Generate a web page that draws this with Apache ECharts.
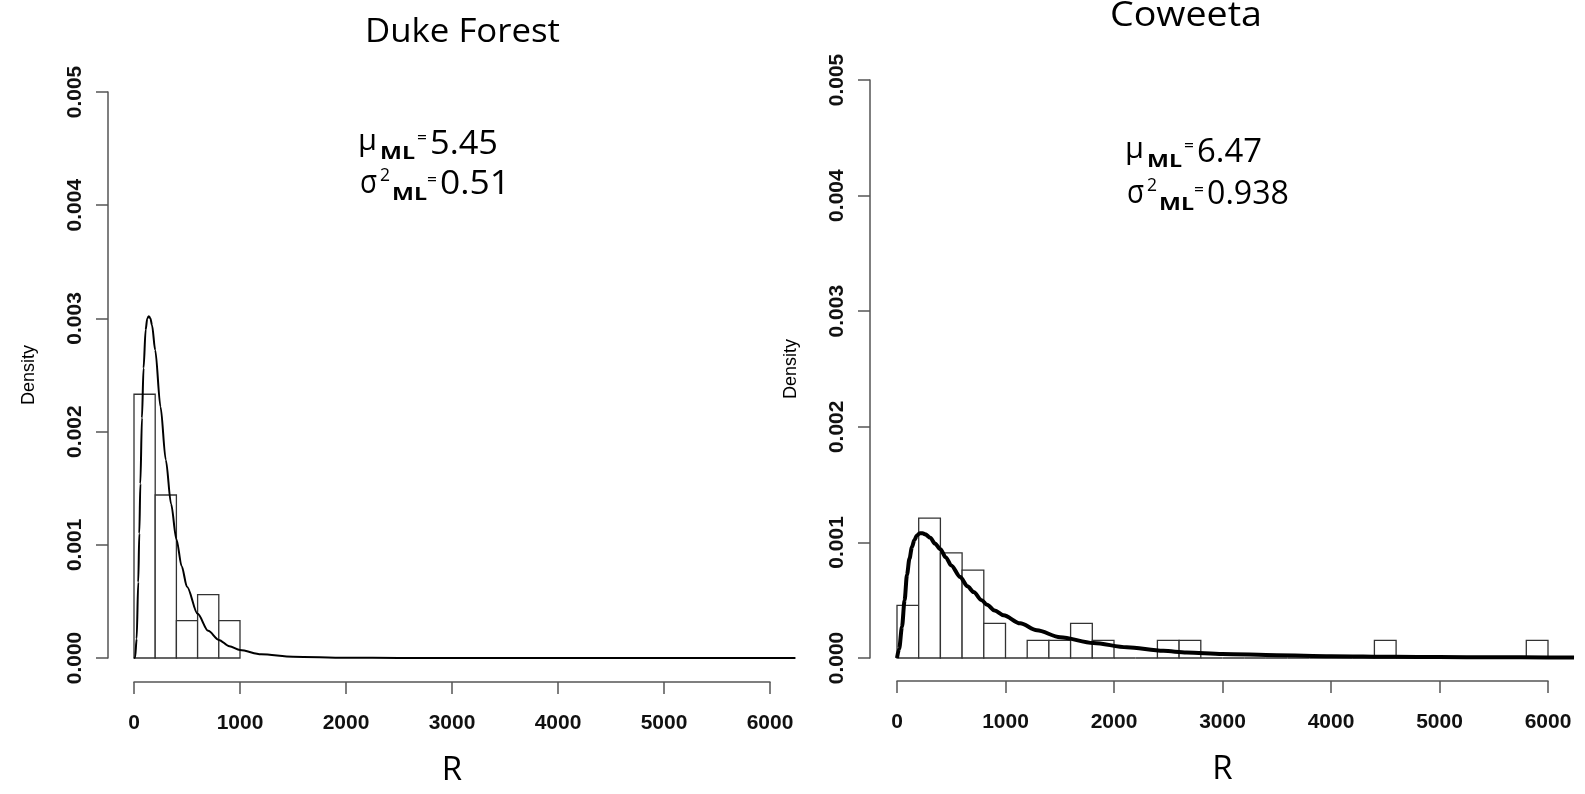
<!DOCTYPE html>
<html><head><meta charset="utf-8">
<script src="https://cdn.jsdelivr.net/npm/echarts@6/dist/echarts.min.js"></script>
<style>html,body{margin:0;padding:0;background:#fff}#c{width:1585px;height:794px}</style>
</head><body><div id="c"></div>
<script>
// ---------- data ----------
const xTickValues = [0, 1000, 2000, 3000, 4000, 5000, 6000];
const yTickValues = [0.000, 0.001, 0.002, 0.003, 0.004, 0.005];
const panelTitles = ['Duke Forest', 'Coweeta'];
const axisNameX = 'R';
const axisNameY = 'Density';

// Duke Forest histogram (bin lower edge, upper edge, density)
const dukeBinLo = [0, 200, 400, 600, 800];
const dukeBinHi = [200, 400, 600, 800, 1000];
const dukeDensity = [0.00233, 0.00144, 0.00033, 0.00056, 0.00033];

// Coweeta histogram
const cowBinLo = [0,200,400,600,800,1000,1200,1400,1600,1800,2000,2200,2400,2600,2800,3000,3200,3400,3600,3800,4000,4200,4400,4600,4800,5000,5200,5400,5600,5800];
const cowBinHi = [200,400,600,800,1000,1200,1400,1600,1800,2000,2200,2400,2600,2800,3000,3200,3400,3600,3800,4000,4200,4400,4600,4800,5000,5200,5400,5600,5800,6000];
const cowDensity = [0.000455,0.00121,0.00091,0.00076,0.0003,0,0.000152,0.000152,0.0003,0.000152,0,0,0.000152,0.000152,0,0,0,0,0,0,0,0,0.000152,0,0,0,0,0,0,0.000152];

// fitted density curves
const dukeCurveR = [0,10,25,40,50,60,75,90,110,125,140,155,170,200,250,300,350,400,450,500,600,700,800,900,1000,1200,1500,2000,2500,3000,4000,5000,6000,6240];
const dukeCurveD = [0,0.000003,0.00017,0.00067,0.0011,0.00154,0.00212,0.00256,0.0029,0.003,0.00302,0.003,0.00294,0.00272,0.00222,0.00175,0.00136,0.00105,0.00081,0.00063,0.00039,0.00024,0.00016,0.000103,0.00007,0.000033,0.000012,0.000003,0.000001,0,0,0,0,0];
const cowCurveR = [0,6,20,46,70,92,115,138,160,184,210,235,260,307,350,400,450,500,583,650,706,780,830,900,982,1135,1289,1504,1810,2118,2455,2670,3000,3500,4000,4590,5000,5500,6000,6240];
const cowCurveD = [0,0,0.00008,0.00027,0.0005,0.00072,0.00086,0.00096,0.00102,0.00106,0.00108,0.00108,0.00107,0.00104,0.00099,0.00094,0.00087,0.0008,0.0007,0.00062,0.00057,0.0005,0.00046,0.00041,0.00037,0.0003,0.00024,0.00018,0.00013,0.000093,0.000062,0.000048,0.000035,0.000024,0.000016,0.00001,0.000008,0.000006,0.000005,0.000004];

const dukeStats = { mu: '5.45', s2: '0.51' };
const cowStats = { mu: '6.47', s2: '0.938' };

// ---------- chart ----------
const chart = echarts.init(document.getElementById('c'), null, { renderer: 'canvas' });
const axisColor = '#555';
const tickFont = { color: '#111', fontFamily: 'Liberation Sans, Arial', fontWeight: 'bold', fontSize: 21 };
const xMin = xTickValues[0], xMax = xTickValues[xTickValues.length - 1];
const dataXMax = Math.max(dukeCurveR[dukeCurveR.length - 1], cowCurveR[cowCurveR.length - 1]);

// layout: visible axis grids and (slightly wider) data grids sharing the same scale
const panels = [
  { left: 134, width: 636, top: 92, height: 566, xOff: 24, yOff: 26 },
  { left: 897, width: 651, top: 80, height: 578, xOff: 23, yOff: 27 }
];

function visXAxis(gi, off) {
  return {
    type: 'value', gridIndex: gi, min: xMin, max: xMax,
    interval: xTickValues[1] - xTickValues[0], offset: off,
    axisLine: { show: true, onZero: false, lineStyle: { color: axisColor, width: 1.5 } },
    axisTick: { show: true, length: 12, lineStyle: { color: axisColor, width: 1.5 } },
    axisLabel: Object.assign({ margin: 31, formatter: v => String(v) }, tickFont),
    splitLine: { show: false },
    name: axisNameX, nameLocation: 'middle', nameGap: 72,
    nameTextStyle: { fontFamily: 'Open Sans', fontSize: 33, color: '#000' }
  };
}
function visYAxis(gi, off) {
  return {
    type: 'value', gridIndex: gi, min: yTickValues[0], max: yTickValues[yTickValues.length - 1],
    interval: yTickValues[1] - yTickValues[0], offset: off,
    axisLine: { show: true, onZero: false, lineStyle: { color: axisColor, width: 1.5 } },
    axisTick: { show: true, length: 12, lineStyle: { color: axisColor, width: 1.5 } },
    axisLabel: Object.assign({ margin: 22, rotate: 90, formatter: v => v.toFixed(3) }, tickFont),
    splitLine: { show: false },
    name: axisNameY, nameLocation: 'middle', nameGap: 70,
    nameTextStyle: { fontFamily: 'Liberation Sans, Arial', fontSize: 18, color: '#000' }
  };
}
function dataXAxis(gi) {
  return { type: 'value', gridIndex: gi, min: xMin, max: dataXMax, show: false, splitLine: { show: false } };
}
function dataYAxis(gi) {
  return { type: 'value', gridIndex: gi, min: yTickValues[0], max: yTickValues[yTickValues.length - 1], show: false, splitLine: { show: false } };
}
function histSeries(ai, lo, hi, dens) {
  return {
    type: 'custom', xAxisIndex: ai, yAxisIndex: ai, z: 2,
    data: lo.map((l, i) => [l, hi[i], dens[i]]),
    encode: { x: [0, 1], y: 2 },
    renderItem(params, api) {
      const p0 = api.coord([api.value(0), api.value(2)]);
      const p1 = api.coord([api.value(1), 0]);
      return { type: 'rect', shape: { x: p0[0], y: p0[1], width: p1[0] - p0[0], height: p1[1] - p0[1] },
        style: { fill: '#fff', stroke: '#333', lineWidth: 1.3 } };
    }
  };
}
function curveSeries(ai, xs, ys, w) {
  return {
    type: 'line', xAxisIndex: ai, yAxisIndex: ai, z: 3, symbol: 'none',
    smooth: 0.3, smoothMonotone: 'x', animation: false,
    data: xs.map((x, i) => [x, ys[i]]),
    lineStyle: { color: '#000', width: w }
  };
}

// text helpers (fit a text run into a measured box)
const cv = document.createElement('canvas').getContext('2d');
function txt(str, x, y, size, w, weight, family) {
  const fam = family || 'Open Sans';
  const wt = weight || 'normal';
  cv.font = wt + ' ' + size + 'px "' + fam + '"';
  const mw = cv.measureText(str).width || 1;
  return { type: 'text', x: x, y: y, scaleX: w / mw, z: 10,
    style: { text: str, fontFamily: fam, fontSize: size, fontWeight: wt, fill: '#000', textAlign: 'left', textVerticalAlign: 'middle' } };
}
function statBlock(stats, o) {
  return [
    txt('\u03bc', o.x, o.y1 - 4, 30, 19),
    txt('ML', o.x + 22, o.y1 + 9, 18, 35, 'bold'),
    txt('=', o.x + 59, o.y1 - 7, 17, 10),
    txt(stats.mu, o.x + 72, o.y1, 32, o.w1),
    txt('\u03c3', o.x + 2, o.y2 - 1, 32, 17),
    txt('2', o.x + 22, o.y2 - 9, 18, 10),
    txt('ML', o.x + 34, o.y2 + 10, 18, 35, 'bold'),
    txt('=', o.x + 69, o.y2 - 5, 17, 10),
    txt(stats.s2, o.x + 82, o.y2, 32, o.w2)
  ];
}

const graphics = [
  txt(panelTitles[0], 365, 33, 32, 195),
  txt(panelTitles[1], 1110, 16, 34, 152),
  ...statBlock(dukeStats, { x: 358, y1: 145, y2: 185, w1: 68, w2: 70 }),
  ...statBlock(cowStats, { x: 1125, y1: 153, y2: 195, w1: 65, w2: 82 })
];

const grids = [], xAxes = [], yAxes = [];
panels.forEach((p, i) => {
  grids.push({ left: p.left, width: p.width, top: p.top, height: p.height });
  xAxes.push(visXAxis(i, p.xOff));
  yAxes.push(visYAxis(i, p.yOff));
});
panels.forEach((p, i) => {
  grids.push({ left: p.left, width: p.width * (dataXMax - xMin) / (xMax - xMin), top: p.top, height: p.height });
  xAxes.push(dataXAxis(panels.length + i));
  yAxes.push(dataYAxis(panels.length + i));
});

chart.setOption({
  animation: false,
  backgroundColor: '#fff',
  grid: grids,
  xAxis: xAxes,
  yAxis: yAxes,
  series: [
    histSeries(2, dukeBinLo, dukeBinHi, dukeDensity),
    curveSeries(2, dukeCurveR, dukeCurveD, 2),
    histSeries(3, cowBinLo, cowBinHi, cowDensity),
    curveSeries(3, cowCurveR, cowCurveD, 4)
  ],
  graphic: graphics
});
</script></body></html>
